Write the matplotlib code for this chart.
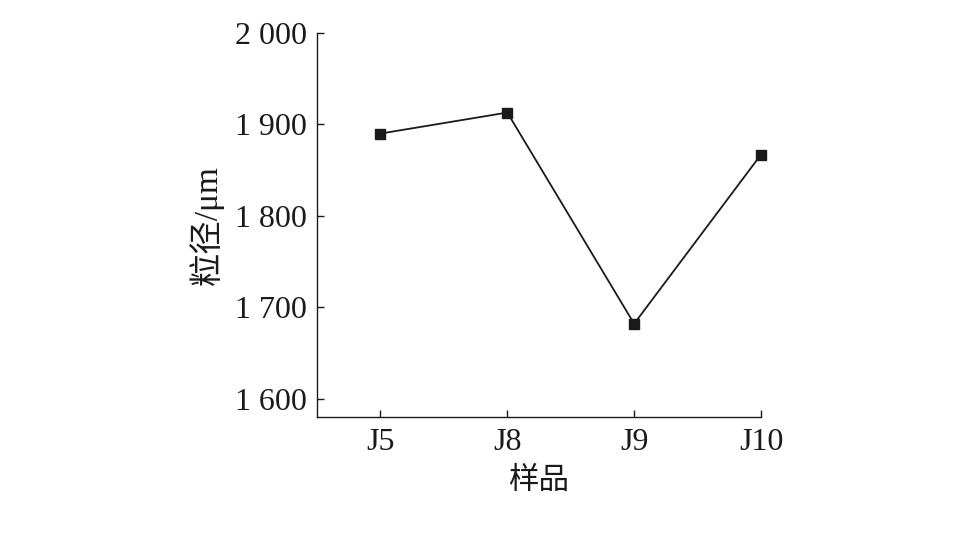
import matplotlib
matplotlib.use("Agg")
import matplotlib.pyplot as plt
from matplotlib.ticker import FuncFormatter

samples = ["J5", "J8", "J9", "J10"]
particle_size = [1890, 1913, 1682, 1867]
y_ticks = [1600, 1700, 1800, 1900, 2000]

plt.rcParams['font.family'] = ['Liberation Serif', 'Noto Sans CJK SC', 'DejaVu Sans']

fig = plt.figure(figsize=(9.72, 5.41), dpi=100)
ax = fig.add_axes([317/972, 1-417/541, (761-317)/972, (417-33)/541])

x = list(range(len(samples)))
ax.plot(x, particle_size, color='#1a1a1a', lw=1.3, marker='s', ms=7.5,
        markerfacecolor='#1a1a1a', markeredgecolor='#1a1a1a', clip_on=False)

ax.set_xlim(-0.5, 3)
ax.set_ylim(1580, 2000)
ax.set_xticks(x)
ax.set_xticklabels(samples)
ax.set_yticks(y_ticks)
ax.yaxis.set_major_formatter(FuncFormatter(lambda v, p: f"{int(v):,}".replace(",", " ")))

for s in ['top', 'right']:
    ax.spines[s].set_visible(False)
for s in ['left', 'bottom']:
    ax.spines[s].set_linewidth(1.0)
    ax.spines[s].set_color('#1a1a1a')

ax.tick_params(direction='in', length=5, width=1.0, labelsize=23, colors='#1a1a1a')
ax.tick_params(axis='y', pad=7)
ax.tick_params(axis='x', pad=8)

ax.set_xlabel("样品", fontsize=22, labelpad=7, color='#1a1a1a')
ax.set_ylabel("粒径/μm", fontsize=24, labelpad=8, color='#1a1a1a')

fig.savefig("out.png", dpi=100)
